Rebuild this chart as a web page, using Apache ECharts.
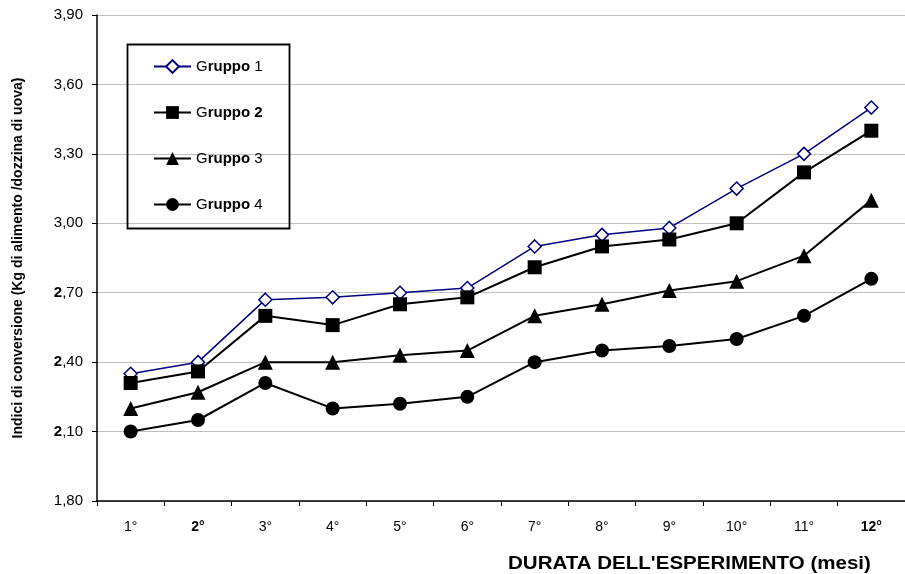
<!DOCTYPE html>
<html>
<head>
<meta charset="utf-8">
<script src="https://cdn.jsdelivr.net/npm/echarts@6/dist/echarts.min.js"></script>
<style>html,body{margin:0;padding:0;background:#fff;}#c{width:905px;height:574px;}</style>
</head>
<body>
<div id="c"></div>
<script>
const categories = ['1°','2°','3°','4°','5°','6°','7°','8°','9°','10°','11°','12°'];
const seriesNames = ['Gruppo 1','Gruppo 2','Gruppo 3','Gruppo 4'];
const gruppo1 = [2.35,2.40,2.67,2.68,2.70,2.72,2.90,2.95,2.98,3.15,3.30,3.50];
const gruppo2 = [2.31,2.36,2.60,2.56,2.65,2.68,2.81,2.90,2.93,3.00,3.22,3.40];
const gruppo3 = [2.20,2.27,2.40,2.40,2.43,2.45,2.60,2.65,2.71,2.75,2.86,3.10];
const gruppo4 = [2.10,2.15,2.31,2.20,2.22,2.25,2.40,2.45,2.47,2.50,2.60,2.76];
const yMin = 1.8, yMax = 3.9, yStep = 0.3;
const yTitle = 'Indici di conversione (Kg di alimento /dozzina di uova)';
const xTitle = "DURATA DELL'ESPERIMENTO (mesi)";

const FONT = 'Liberation Sans, Arial, sans-serif';
const chart = echarts.init(document.getElementById('c'));
const legendFmt = {
  'Gruppo 1': '{n|G}{b|ruppo}{n| 1}',
  'Gruppo 2': '{n|G}{b|ruppo 2}',
  'Gruppo 3': '{n|G}{b|ruppo}{n| 3}',
  'Gruppo 4': '{n|G}{b|ruppo}{n| 4}'
};
const boldX = {'2°':1,'12°':1};
chart.setOption({
  animation: false,
  backgroundColor: '#fff',
  grid: {left: 97, right: 0, top: 15, bottom: 73, containLabel: false},
  xAxis: {
    type: 'category', data: categories, boundaryGap: true,
    axisLine: {lineStyle: {color: '#000', width: 1.5}},
    axisTick: {show: true, length: 5, lineStyle: {color: '#000', width: 1}, alignWithLabel: false},
    axisLabel: {
      margin: 19, fontFamily: FONT, fontSize: 14, color: '#000',
      formatter: v => boldX[v] ? '{b|' + v + '}' : '{n|' + v + '}',
      rich: {n: {fontFamily: FONT, fontSize: 14, color: '#000'}, b: {fontFamily: FONT, fontSize: 14, color: '#000', fontWeight: 'bold'}}
    },
    splitLine: {show: false}
  },
  yAxis: {
    type: 'value', min: yMin, max: yMax, interval: yStep,
    name: yTitle, nameLocation: 'middle', nameGap: 72, nameRotate: 90,
    nameTextStyle: {fontFamily: FONT, fontSize: 14, fontWeight: 'bold', color: '#000'},
    axisLine: {show: true, lineStyle: {color: '#000', width: 1.5}},
    axisTick: {show: true, length: 5, lineStyle: {color: '#000'}},
    axisLabel: {
      margin: 14, fontFamily: FONT, fontSize: 15, color: '#000',
      formatter: v => {
        const s = v.toFixed(2).replace('.', ',');
        const r = Math.round(v * 100);
        if (r === 270 || r === 240 || r === 210) return '{b|' + s[0] + '}{n|' + s.slice(1) + '}';
        return '{n|' + s + '}';
      },
      rich: {n: {fontFamily: FONT, fontSize: 15, color: '#000'}, b: {fontFamily: FONT, fontSize: 15, color: '#000', fontWeight: 'bold'}}
    },
    splitLine: {show: true, lineStyle: {color: '#c0c0c0', width: 1}}
  },
  legend: {
    orient: 'vertical', left: 153, top: 59, padding: 0, itemWidth: 37, itemHeight: 16, itemGap: 31,
    data: seriesNames,
    formatter: n => legendFmt[n],
    textStyle: {
      fontFamily: FONT, fontSize: 15, color: '#000',
      rich: {n: {fontFamily: FONT, fontSize: 15, color: '#000'}, b: {fontFamily: FONT, fontSize: 15, color: '#000', fontWeight: 'bold'}}
    }
  },
  graphic: [
    {type: 'rect', left: 125, top: 42, shape: {width: 162, height: 184}, style: {fill: 'none', stroke: '#000', lineWidth: 1.8}, z: 100},
    {type: 'text', x: 508, y: 564, scaleX: 1.14, style: {text: xTitle, font: 'bold 18px ' + FONT, fill: '#000', textAlign: 'left', textVerticalAlign: 'middle'}}
  ],
  series: [
    {name: seriesNames[0], type: 'line', data: gruppo1, symbol: 'diamond', symbolSize: 13,
      lineStyle: {color: '#000080', width: 1.5}, itemStyle: {color: '#fff', borderColor: '#000080', borderWidth: 1.5}},
    {name: seriesNames[1], type: 'line', data: gruppo2, symbol: 'rect', symbolSize: 14,
      lineStyle: {color: '#000', width: 2}, itemStyle: {color: '#000', borderColor: '#000', borderWidth: 0}},
    {name: seriesNames[2], type: 'line', data: gruppo3, symbol: 'triangle', symbolSize: 15,
      lineStyle: {color: '#000', width: 2}, itemStyle: {color: '#000', borderColor: '#000', borderWidth: 0}},
    {name: seriesNames[3], type: 'line', data: gruppo4, symbol: 'circle', symbolSize: 14,
      lineStyle: {color: '#000', width: 2}, itemStyle: {color: '#000', borderColor: '#000', borderWidth: 0}}
  ]
});
</script>
</body>
</html>
